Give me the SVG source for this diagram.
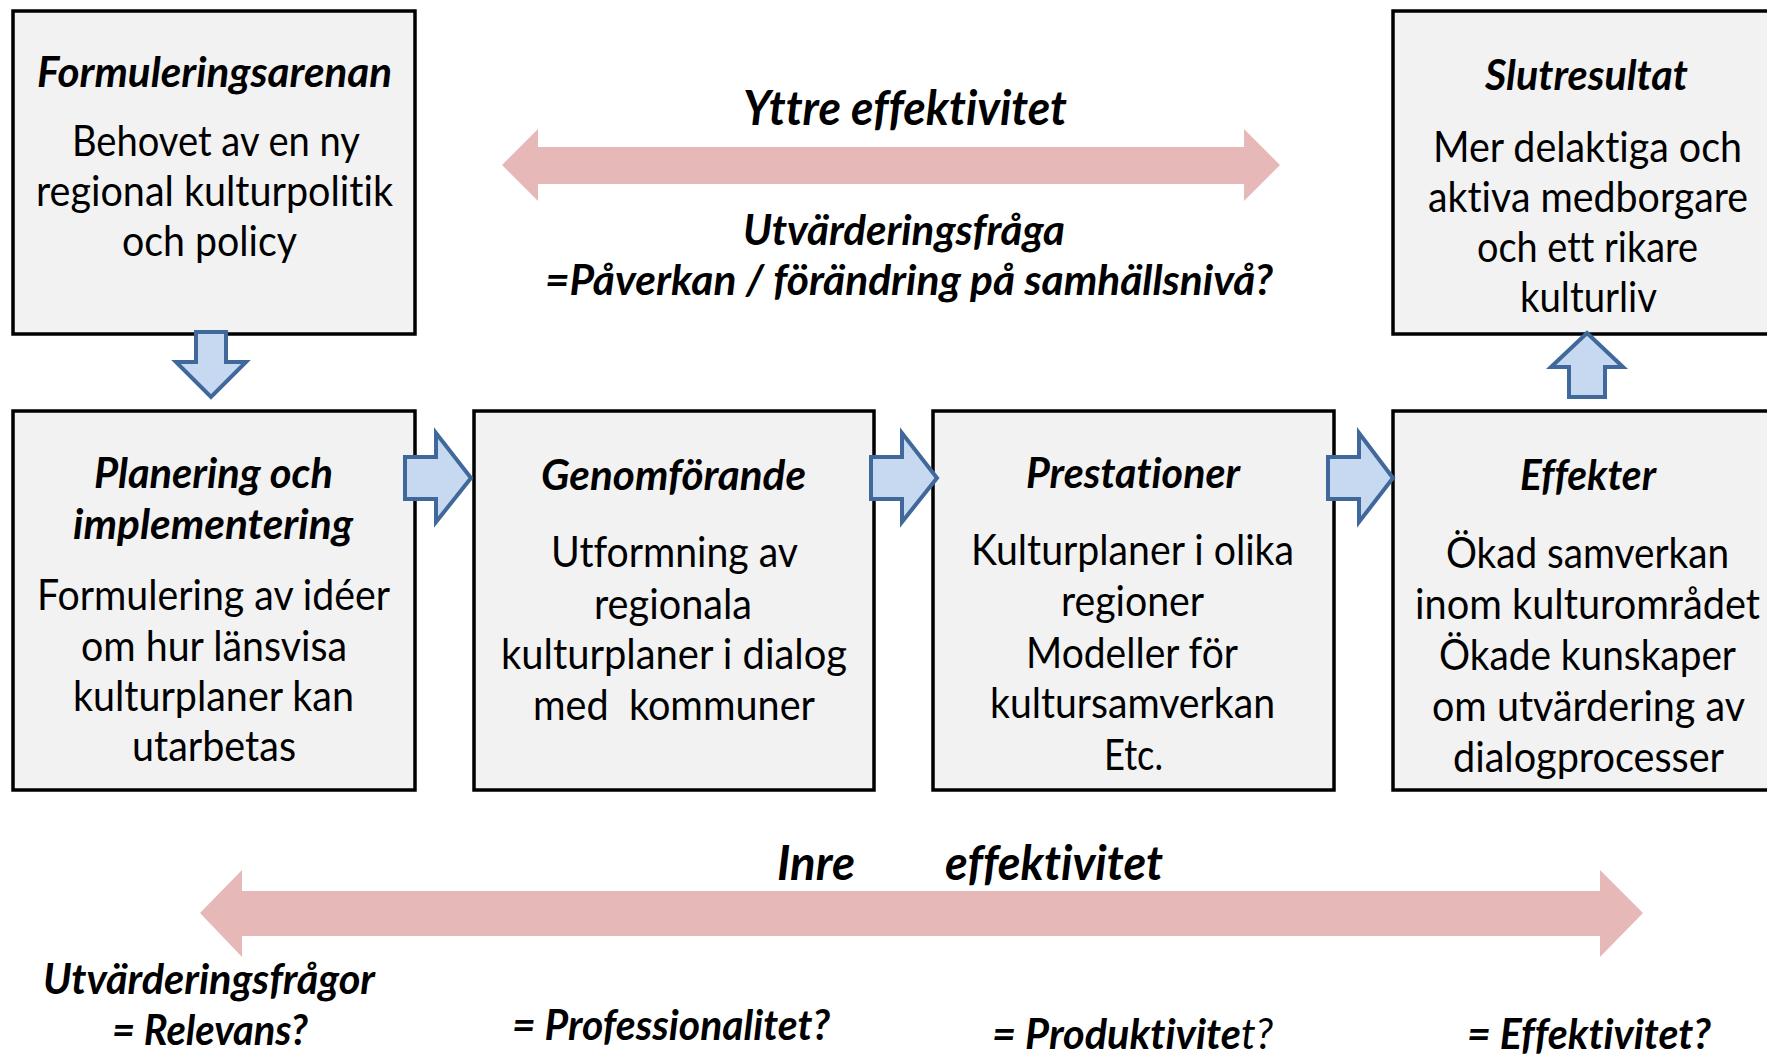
<svg xmlns="http://www.w3.org/2000/svg" width="1767" height="1056" viewBox="0 0 1767 1056">
<style>
  .box { fill: #F2F2F2; stroke: #000000; stroke-width: 3.5; }
  .blk { fill: #C6D9F1; stroke: #41689A; stroke-width: 4; stroke-linejoin: miter; }
  .pink { fill: #E6B8B7; stroke: none; }
  text { font-family: Lato, "Liberation Sans", sans-serif; fill: #000000; font-variant-ligatures: none; }
  .t { font-size: 42px; font-weight: bold; font-style: italic; }
  .b { font-size: 42px; font-weight: normal; }
  .big { font-size: 47px; font-weight: bold; font-style: italic; }
  .pre { white-space: pre; }
</style>
<rect x="0" y="0" width="1767" height="1056" fill="#FFFFFF"/>

<g id="node-formuleringsarenan">
  <rect class="box" x="13" y="11" width="402" height="323"/>
  <text class="t" x="37" y="87" textLength="355" lengthAdjust="spacingAndGlyphs">Formuleringsarenan</text>
  <text class="b" x="72" y="156" textLength="288" lengthAdjust="spacingAndGlyphs">Behovet av en ny</text>
  <text class="b" x="36" y="206" textLength="357" lengthAdjust="spacingAndGlyphs">regional kulturpolitik</text>
  <text class="b" x="122" y="256" textLength="175" lengthAdjust="spacingAndGlyphs">och policy</text>
</g>

<g id="node-slutresultat">
  <rect class="box" x="1393" y="11" width="378" height="323"/>
  <text class="t" x="1485" y="90" textLength="203" lengthAdjust="spacingAndGlyphs">Slutresultat</text>
  <text class="b" x="1433" y="162" textLength="309" lengthAdjust="spacingAndGlyphs">Mer delaktiga och</text>
  <text class="b" x="1428" y="212" textLength="320" lengthAdjust="spacingAndGlyphs">aktiva medborgare</text>
  <text class="b" x="1477" y="262" textLength="221" lengthAdjust="spacingAndGlyphs">och ett rikare</text>
  <text class="b" x="1520" y="312" textLength="137" lengthAdjust="spacingAndGlyphs">kulturliv</text>
</g>

<g id="node-planering">
  <rect class="box" x="13" y="411" width="402" height="379"/>
  <text class="t" x="94" y="488" textLength="239" lengthAdjust="spacingAndGlyphs">Planering och</text>
  <text class="t" x="73" y="539" textLength="280" lengthAdjust="spacingAndGlyphs">implementering</text>
  <text class="b" x="37" y="610" textLength="353" lengthAdjust="spacingAndGlyphs">Formulering av idéer</text>
  <text class="b" x="81" y="661" textLength="266" lengthAdjust="spacingAndGlyphs">om hur länsvisa</text>
  <text class="b" x="73" y="711" textLength="281" lengthAdjust="spacingAndGlyphs">kulturplaner kan</text>
  <text class="b" x="132" y="761" textLength="164" lengthAdjust="spacingAndGlyphs">utarbetas</text>
</g>

<g id="node-genomforande">
  <rect class="box" x="474" y="411" width="400" height="379"/>
  <text class="t" x="541" y="490" textLength="265" lengthAdjust="spacingAndGlyphs">Genomförande</text>
  <text class="b" x="551" y="567" textLength="247" lengthAdjust="spacingAndGlyphs">Utformning av</text>
  <text class="b" x="594" y="619" textLength="158" lengthAdjust="spacingAndGlyphs">regionala</text>
  <text class="b" x="501" y="669" textLength="346" lengthAdjust="spacingAndGlyphs">kulturplaner i dialog</text>
  <text class="b pre" x="533" y="720" textLength="282" lengthAdjust="spacingAndGlyphs">med  kommuner</text>
</g>

<g id="node-prestationer">
  <rect class="box" x="933" y="411" width="401" height="379"/>
  <text class="t" x="1026" y="488" textLength="214" lengthAdjust="spacingAndGlyphs">Prestationer</text>
  <text class="b" x="971" y="565" textLength="323" lengthAdjust="spacingAndGlyphs">Kulturplaner i olika</text>
  <text class="b" x="1061" y="616" textLength="143" lengthAdjust="spacingAndGlyphs">regioner</text>
  <text class="b" x="1026" y="668" textLength="212" lengthAdjust="spacingAndGlyphs">Modeller för</text>
  <text class="b" x="990" y="718" textLength="285" lengthAdjust="spacingAndGlyphs">kultursamverkan</text>
  <text class="b" x="1104" y="770" textLength="59" lengthAdjust="spacingAndGlyphs">Etc.</text>
</g>

<g id="node-effekter">
  <rect class="box" x="1393" y="411" width="378" height="379"/>
  <text class="t" x="1520" y="490" textLength="136" lengthAdjust="spacingAndGlyphs">Effekter</text>
  <text class="b" x="1446" y="568" textLength="283" lengthAdjust="spacingAndGlyphs">Ökad samverkan</text>
  <text class="b" x="1415" y="619" textLength="345" lengthAdjust="spacingAndGlyphs">inom kulturområdet</text>
  <text class="b" x="1439" y="670" textLength="297" lengthAdjust="spacingAndGlyphs">Ökade kunskaper</text>
  <text class="b" x="1432" y="721" textLength="313" lengthAdjust="spacingAndGlyphs">om utvärdering av</text>
  <text class="b" x="1453" y="772" textLength="271" lengthAdjust="spacingAndGlyphs">dialogprocesser</text>
</g>

<g id="connectors">
  <polygon class="blk" points="196,332 226,332 226,362 246,362 211,397 176,362 196,362"/>
  <polygon class="blk" points="405,457 436,457 436,433 471,478 436,522 436,499 405,499"/>
  <polygon class="blk" points="871,457 902,457 902,433 937,478 902,522 902,499 871,499"/>
  <polygon class="blk" points="1328,457 1359,457 1359,433 1393,478 1359,522 1359,499 1328,499"/>
  <polygon class="blk" points="1587,333 1623,367 1605,367 1605,397 1569,397 1569,367 1551,367"/>
  <polygon class="pink" points="502,165 538,129 538,147 1244,147 1244,129 1280,165 1244,201 1244,184 538,184 538,201"/>
  <polygon class="pink" points="200,913 242,870 242,891 1600,891 1600,870 1643,913 1600,957 1600,936 242,936 242,957"/>
</g>

<g id="labels">
  <text class="big" x="743" y="125" textLength="324" lengthAdjust="spacingAndGlyphs">Yttre effektivitet</text>
  <text class="t" x="743" y="245" textLength="322" lengthAdjust="spacingAndGlyphs">Utvärderingsfråga</text>
  <text class="t" x="545" y="295" textLength="728" lengthAdjust="spacingAndGlyphs">=Påverkan / förändring på samhällsnivå?</text>
  <text class="big" x="777" y="880" textLength="78" lengthAdjust="spacingAndGlyphs">Inre</text>
  <text class="big" x="945" y="880" textLength="218" lengthAdjust="spacingAndGlyphs">effektivitet</text>
  <text class="t" x="43" y="994" textLength="332" lengthAdjust="spacingAndGlyphs">Utvärderingsfrågor</text>
  <text class="t" x="112" y="1045" textLength="196" lengthAdjust="spacingAndGlyphs">= Relevans?</text>
  <text class="t" x="512" y="1040" textLength="318" lengthAdjust="spacingAndGlyphs">= Professionalitet?</text>
  <text class="t" x="992" y="1049" textLength="281" lengthAdjust="spacingAndGlyphs">= Produktivite<tspan font-weight="normal">t?</tspan></text>
  <text class="t" x="1467" y="1049" textLength="244" lengthAdjust="spacingAndGlyphs">= Effektivitet?</text>
</g>
</svg>
